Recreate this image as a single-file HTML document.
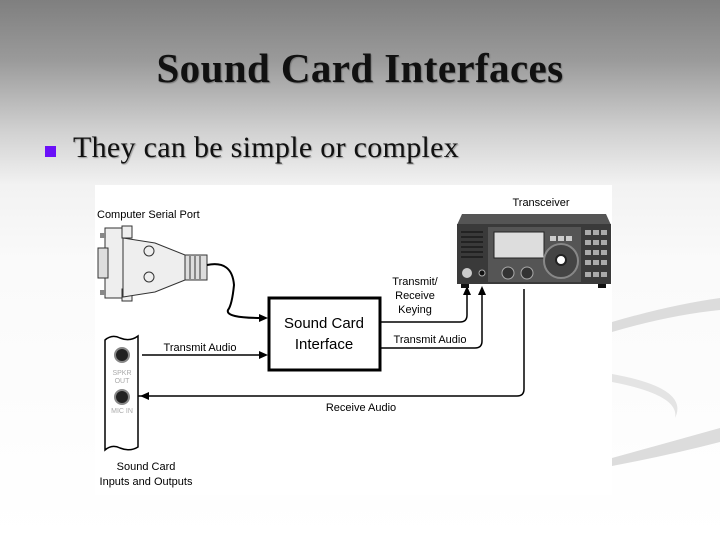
<!DOCTYPE html>
<html><head><meta charset="utf-8"><style>
html,body{margin:0;padding:0}
body{width:720px;height:540px;overflow:hidden;position:relative;background:linear-gradient(#7f7f7f 0px,#9a9a9a 60px,#d0d0d0 130px,#f2f2f2 185px,#fafafa 260px,#fff 540px);font-family:"Liberation Serif",serif}
.t{position:absolute;left:0;width:720px;text-align:center;top:44px;font-size:41px;font-weight:bold;color:#111;text-shadow:1px 1px 1px #777;letter-spacing:0.4px}
.b{position:absolute;left:73px;top:131px;font-size:30px;color:#111;text-shadow:1px 1px 1px #999;letter-spacing:0.3px}
.sq{position:absolute;left:45px;top:146px;width:11px;height:11px;background:#6a10f8}
svg{position:absolute;left:0;top:0}
</style></head><body>
<svg width="720" height="540" font-family="Liberation Sans, sans-serif">
<path d="M612 322 Q670 305 720 298 L720 310 Q670 315 612 332Z" fill="#dcdcdc"/>
<path d="M612 458 Q670 442 720 428 L720 442 Q670 455 612 466Z" fill="#dcdcdc"/>
<path d="M612 382 Q680 395 675 418 Q690 388 612 374Z" fill="#e4e4e4"/>
<rect x="95" y="185" width="517" height="310" fill="#fff"/>
<text x="97" y="218" font-size="11">Computer Serial Port</text>
<rect x="105" y="228" width="18" height="70" fill="#eee" stroke="#333"/>
<rect x="98" y="248" width="10" height="30" fill="#ddd" stroke="#333"/>
<rect x="100" y="233" width="6" height="5" fill="#888"/><rect x="100" y="290" width="6" height="5" fill="#888"/>
<rect x="122" y="226" width="10" height="12" fill="#eee" stroke="#333"/><rect x="122" y="289" width="10" height="12" fill="#eee" stroke="#333"/>
<path d="M123 238 L155 243 L185 255 L185 280 L155 292 L123 297Z" fill="#eee" stroke="#333"/>
<circle cx="149" cy="251" r="5" fill="none" stroke="#333"/><circle cx="149" cy="277" r="5" fill="none" stroke="#333"/>
<rect x="185" y="255" width="22" height="25" fill="#ddd" stroke="#333"/>
<path d="M190 256v23M195 256v23M200 256v23" stroke="#333"/>
<path d="M207 265 Q232 260 234 285 Q232 305 228 310 Q225 318 262 318" fill="none" stroke="#000" stroke-width="2"/>
<path d="M268 318 l-9 -4 v8z" fill="#000"/>
<rect x="269" y="298" width="111" height="72" fill="#fff" stroke="#000" stroke-width="3"/>
<text x="324" y="328" font-size="15" text-anchor="middle">Sound Card</text>
<text x="324" y="349" font-size="15" text-anchor="middle">Interface</text>
<path d="M105 340 Q112 334 120 338 Q130 342 138 336 V447 Q130 452 120 448 Q112 444 105 450Z" fill="#fff" stroke="#000" stroke-width="1.5"/>
<circle cx="122" cy="355" r="7" fill="#222" stroke="#888" stroke-width="2"/>
<circle cx="122" cy="397" r="7" fill="#222" stroke="#888" stroke-width="2"/>
<text x="122" y="375" font-size="7" fill="#aaa" text-anchor="middle">SPKR</text>
<text x="122" y="383" font-size="7" fill="#aaa" text-anchor="middle">OUT</text>
<text x="122" y="413" font-size="7" fill="#aaa" text-anchor="middle">MIC IN</text>
<text x="146" y="470" font-size="11" text-anchor="middle">Sound Card</text>
<text x="146" y="485" font-size="11" text-anchor="middle">Inputs and Outputs</text>
<line x1="142" y1="355" x2="260" y2="355" stroke="#000" stroke-width="1.5"/>
<path d="M268 355 l-9 -4 v8z" fill="#000"/>
<text x="200" y="351" font-size="11" text-anchor="middle">Transmit Audio</text>
<path d="M138 396 H517 Q524 396 524 389 V289" fill="none" stroke="#000" stroke-width="1.5"/>
<path d="M140 396 l9 -4 v8z" fill="#000"/>
<text x="361" y="411" font-size="11" text-anchor="middle">Receive Audio</text>
<path d="M381 322 H460 Q467 322 467 315 V293" fill="none" stroke="#000" stroke-width="1.5"/>
<path d="M467 286 l-4 9 h8z" fill="#000"/>
<path d="M381 348 H475 Q482 348 482 341 V293" fill="none" stroke="#000" stroke-width="1.5"/>
<path d="M482 286 l-4 9 h8z" fill="#000"/>
<text x="415" y="285" font-size="11" text-anchor="middle">Transmit/</text>
<text x="415" y="299" font-size="11" text-anchor="middle">Receive</text>
<text x="415" y="313" font-size="11" text-anchor="middle">Keying</text>
<text x="430" y="343" font-size="11" text-anchor="middle">Transmit Audio</text>
<text x="541" y="206" font-size="11" text-anchor="middle">Transceiver</text>
<path d="M462 214 L606 214 L611 225 L457 225Z" fill="#555"/>
<rect x="457" y="224" width="154" height="60" fill="#3a3a3a"/>
<rect x="488" y="227" width="93" height="55" fill="#555"/>
<rect x="494" y="232" width="50" height="26" fill="#ddd" stroke="#222"/>
<rect x="550" y="236" width="6" height="5" fill="#ccc"/><rect x="558" y="236" width="6" height="5" fill="#ccc"/><rect x="566" y="236" width="6" height="5" fill="#ccc"/>
<path d="M461 232h22M461 237h22M461 242h22M461 247h22M461 252h22M461 257h22" stroke="#222" stroke-width="2"/>
<circle cx="467" cy="273" r="5" fill="#ccc"/><circle cx="482" cy="273" r="3" fill="#111" stroke="#aaa"/>
<circle cx="508" cy="273" r="6" fill="#333" stroke="#aaa"/><circle cx="527" cy="273" r="6" fill="#333" stroke="#aaa"/>
<circle cx="561" cy="261" r="17" fill="#444" stroke="#888" stroke-width="2"/><circle cx="561" cy="260" r="5" fill="#fff" stroke="#222" stroke-width="2"/>
<g fill="#aaa"><rect x="585" y="230" width="6" height="5"/><rect x="593" y="230" width="6" height="5"/><rect x="601" y="230" width="6" height="5"/>
<rect x="585" y="240" width="6" height="5"/><rect x="593" y="240" width="6" height="5"/><rect x="601" y="240" width="6" height="5"/>
<rect x="585" y="250" width="6" height="5"/><rect x="593" y="250" width="6" height="5"/><rect x="601" y="250" width="6" height="5"/>
<rect x="585" y="260" width="6" height="5"/><rect x="593" y="260" width="6" height="5"/><rect x="601" y="260" width="6" height="5"/>
<rect x="585" y="272" width="6" height="5"/><rect x="593" y="272" width="6" height="5"/><rect x="601" y="272" width="6" height="5"/></g>
<rect x="461" y="284" width="8" height="4" fill="#111"/><rect x="598" y="284" width="8" height="4" fill="#111"/>
</svg>
<div class="t">Sound Card Interfaces</div>
<div class="sq"></div>
<div class="b">They can be simple or complex</div>
</body></html>
